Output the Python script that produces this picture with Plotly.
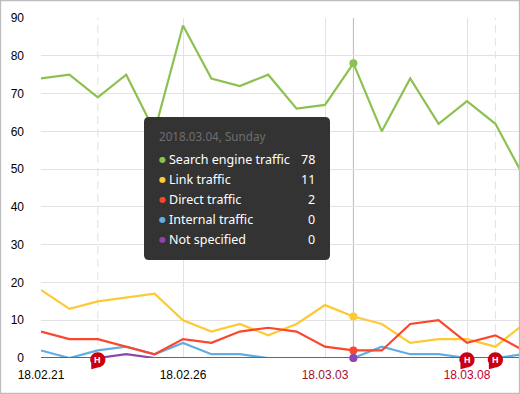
import plotly.graph_objects as go
from datetime import datetime, timedelta

start = datetime(2018, 2, 21)
dates = [start + timedelta(days=i) for i in range(18)]

search = [74, 75, 69, 75, 60, 88, 74, 72, 75, 66, 67, 78, 60, 74, 62, 68, 62, 48]
link = [18, 13, 15, 16, 17, 10, 7, 9, 6, 9, 14, 11, 9, 4, 5, 5, 3, 9]
direct = [7, 5, 5, 3, 1, 5, 4, 7, 8, 7, 3, 2, 2, 9, 10, 4, 6, 2]
internal = [2, 0, 2, 3, 1, 4, 1, 1, 0, 0, 0, 0, 3, 1, 1, 0, 0, 1]
unspecified = [0, 0, 0, 1, 0, 0, 0, 0, 0, 0, 0, 0, 0, 0, 0, 0, 0, 0]

colors = {"search": "#8cc152", "link": "#fdc935", "direct": "#f9472e", "internal": "#62ade3", "none": "#8e44ad"}

y_ticks = [0, 10, 20, 30, 40, 50, 60, 70, 80, 90]
x_tick_dates = [datetime(2018, 2, 21), datetime(2018, 2, 26), datetime(2018, 3, 3), datetime(2018, 3, 8)]
x_tick_labels = ["18.02.21", "18.02.26",
                 '<span style="color:#a0102f">18.03.03</span>',
                 '<span style="color:#c2002f">18.03.08</span>']
holiday_dates = [datetime(2018, 2, 23), datetime(2018, 3, 8), datetime(2018, 3, 9)]
dashed_dates = [datetime(2018, 2, 23), datetime(2018, 3, 9)]
hover_date = datetime(2018, 3, 4)
hover_title = "2018.03.04, Sunday"
tooltip_rows = [("Search engine traffic", 78, "search"), ("Link traffic", 11, "link"),
                ("Direct traffic", 2, "direct"), ("Internal traffic", 0, "internal"),
                ("Not specified", 0, "none")]

W, H = 520, 394
L, T, B = 41, 18, 36
x_end = start + timedelta(days=(W - L) / 28.4)
px = lambda v: (v - L) / (W - L)
py = lambda v: 1 - (v - T) / (H - T - B)

fig = go.Figure()
for vals, c in [(search, "search"), (internal, "internal"), (link, "link"), (direct, "direct"), (unspecified, "none")]:
    fig.add_trace(go.Scatter(x=dates, y=vals, mode="lines", line=dict(color=colors[c], width=2.2),
                             hoverinfo="skip", showlegend=False))

fig.add_trace(go.Scatter(x=[hover_date] * 5, y=[v for _, v, _ in tooltip_rows],
                         mode="markers", marker=dict(size=8, color=[colors[k] for *_, k in tooltip_rows]),
                         cliponaxis=False, hoverinfo="skip", showlegend=False))

shapes = []
for d in dashed_dates:
    shapes.append(dict(type="line", xref="x", yref="paper", x0=d, x1=d, y0=0, y1=1, layer="below",
                       line=dict(color="#e2e2e2", width=1, dash="8px,5px")))
shapes.append(dict(type="line", xref="x", yref="paper", x0=hover_date, x1=hover_date, y0=0, y1=1, layer="below",
                   line=dict(color="#b8b8b8", width=1)))
# outer frame
shapes.append(dict(type="rect", xref="paper", yref="paper",
                   x0=px(0.5), x1=px(W - 0.5), y0=py(H - 0.5), y1=py(0.5),
                   line=dict(color="#bdbdbd", width=1.3)))
# tooltip box with rounded corners
r = 5
bw, bh = 186, 143
tooltip_path = (f"M {r},0 L {bw-r},0 Q {bw},0 {bw},{-r} L {bw},{-bh+r} Q {bw},{-bh} {bw-r},{-bh} "
                f"L {r},{-bh} Q 0,{-bh} 0,{-bh+r} L 0,{-r} Q 0,0 {r},0 Z")
shapes.append(dict(type="path", xref="paper", yref="paper", xsizemode="pixel", ysizemode="pixel",
                   xanchor=px(144), yanchor=py(117), path=tooltip_path,
                   fillcolor="#333333", line=dict(width=0), layer="above"))

# holiday badges: circle with a small tail, anchored on the date at the axis baseline
cy = -1.8
R = 7.6
k = 0.5523 * R
badge_path = (f"M {-R},{cy} C {-R},{cy+k} {-k},{cy+R} 0,{cy+R} C {k},{cy+R} {R},{cy+k} {R},{cy} "
              f"C {R},{cy-k} {k},{cy-R} 0,{cy-R} L -6.5,{cy-9.5} L {-R+1},{cy-3} C {-R},{cy-2} {-R},{cy-1} {-R},{cy} Z")
for d in holiday_dates:
    shapes.append(dict(type="path", xref="x", yref="paper", xsizemode="pixel", ysizemode="pixel",
                       xanchor=d, yanchor=0, path=badge_path, fillcolor="#c90010", line=dict(width=0), layer="above"))

annotations = []
for d in holiday_dates:
    annotations.append(dict(xref="x", yref="paper", x=d, y=0, yshift=-2, text="<b>H</b>", showarrow=False,
                            xanchor="center", yanchor="middle",
                            font=dict(family="Liberation Sans", size=9, color="white")))
annotations.append(dict(xref="paper", yref="paper", x=px(157), y=py(136), text=hover_title, showarrow=False,
                        xanchor="left", yanchor="middle", font=dict(family="Noto Sans", size=11.7, color="#6e6e6e")))
for i, (name, val, key) in enumerate(tooltip_rows):
    yy = 159 + i * 20
    annotations.append(dict(xref="paper", yref="paper", x=px(162), y=py(yy), text="●", showarrow=False,
                            xanchor="center", yanchor="middle", font=dict(family="DejaVu Sans", size=8, color=colors[key])))
    annotations.append(dict(xref="paper", yref="paper", x=px(167), y=py(yy), text=name, showarrow=False,
                            xanchor="left", yanchor="middle", font=dict(family="Noto Sans", size=12.5, color="white")))
    annotations.append(dict(xref="paper", yref="paper", x=px(317), y=py(yy), text=str(val), showarrow=False,
                            xanchor="right", yanchor="middle", font=dict(family="Noto Sans", size=12.5, color="white")))

fig.update_layout(
    width=W, height=H, margin=dict(l=L, r=0, t=T, b=B, pad=0),
    paper_bgcolor="white", plot_bgcolor="white", showlegend=False,
    font=dict(family="Liberation Sans", size=12, color="#000000"),
    shapes=shapes, annotations=annotations,
    xaxis=dict(type="date", range=[start, x_end], tickmode="array", tickvals=x_tick_dates, ticktext=x_tick_labels,
               showgrid=True, gridcolor="#e2e2e2", gridwidth=1, zeroline=False, showline=False, ticks="",
               ticklabelstandoff=8, tickangle=0, tickfont=dict(size=12, color="#000000")),
    yaxis=dict(range=[0, 90], tickmode="array", tickvals=y_ticks, showgrid=True, gridcolor="#e2e2e2", gridwidth=1,
               zeroline=False, showline=False, ticks="", ticklabelstandoff=16, tickfont=dict(size=12, color="#000000")),
)
fig.write_html("out.html", include_plotlyjs=True, config={"displayModeBar": False},
               post_script="document.body.style.margin='0';document.body.style.overflow='hidden';")
